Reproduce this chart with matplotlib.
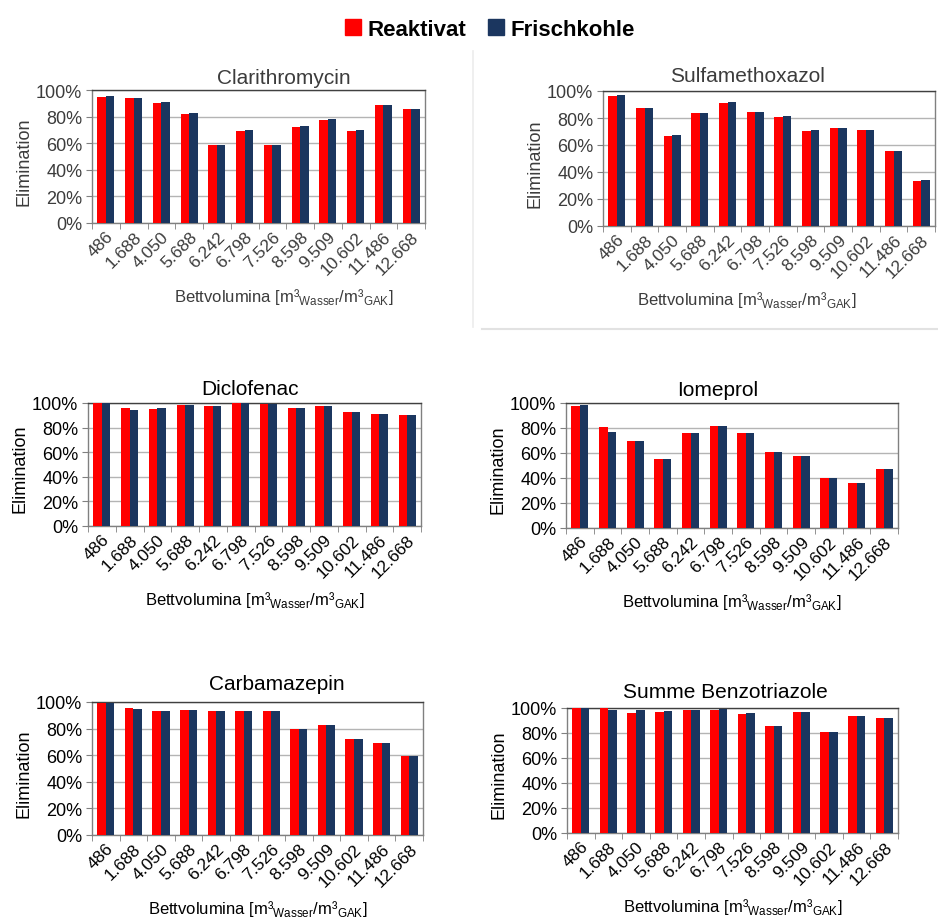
import matplotlib
matplotlib.use("Agg")
import matplotlib.pyplot as plt
import numpy as np
from matplotlib.patches import Patch
from matplotlib.lines import Line2D

plt.rcParams['font.family'] = ['Liberation Sans', 'DejaVu Sans']
plt.rcParams['mathtext.fontset'] = 'custom'
plt.rcParams['mathtext.rm'] = 'Liberation Sans'

###################
# Data (percent elimination)

categories = [ "486", "1.688", "4.050", "5.688", "6.242", "6.798", "7.526",
               "8.598", "9.509", "10.602", "11.486", "12.668" ]

clari_reakt = [ 95.0, 93.7, 90.5, 82.0, 58.6, 69.0, 58.6, 72.4, 77.4, 69.0, 88.5, 85.5 ]
clari_frisch = [ 95.5, 93.8, 91.0, 82.7, 59.0, 69.7, 59.0, 73.0, 78.0, 69.7, 89.0, 86.0 ]

sulfa_reakt = [ 96.5, 87.2, 66.9, 83.5, 91.4, 84.4, 80.7, 70.6, 72.3, 71.1, 55.6, 33.3 ]
sulfa_frisch = [ 97.0, 87.4, 67.2, 84.0, 91.6, 84.7, 81.2, 71.0, 72.6, 71.4, 55.8, 33.8 ]

diclo_reakt = [ 100.0, 95.9, 95.4, 98.4, 97.8, 99.7, 98.9, 95.7, 97.3, 92.4, 91.3, 90.5 ]
diclo_frisch = [ 100.0, 94.0, 95.7, 98.4, 97.8, 99.7, 98.9, 95.7, 97.3, 92.4, 91.3, 90.5 ]

iome_reakt = [ 97.9, 80.7, 69.3, 55.1, 75.7, 81.8, 75.9, 60.7, 58.0, 40.1, 35.8, 47.1 ]
iome_frisch = [ 98.7, 77.0, 69.3, 55.1, 75.7, 81.8, 75.9, 60.7, 58.0, 40.1, 35.8, 47.1 ]

carba_reakt = [ 99.5, 95.7, 93.5, 94.2, 93.5, 93.5, 93.5, 79.7, 82.5, 72.5, 69.2, 59.2 ]
carba_frisch = [ 99.5, 95.0, 93.5, 94.2, 93.5, 93.5, 93.5, 79.7, 82.5, 72.5, 69.2, 59.2 ]

benzo_reakt = [ 100.0, 100.0, 96.0, 96.5, 98.1, 98.4, 95.2, 85.3, 96.5, 81.1, 93.6, 91.7 ]
benzo_frisch = [ 100.0, 98.1, 98.1, 97.9, 98.4, 99.2, 96.0, 85.3, 96.5, 81.1, 93.6, 91.7 ]

titles = [ "Clarithromycin", "Sulfamethoxazol", "Diclofenac", "Iomeprol",
           "Carbamazepin", "Summe Benzotriazole" ]
seriesNames = [ "Reaktivat", "Frischkohle" ]

RED = "#ff0000"
BLUE = "#1b365f"

W, H = 938, 920

def box( l, r, t, b ):
    return [ l / W, 1 - b / H, ( r - l ) / W, ( b - t ) / H ]

# panel: rect, data, title offsets px, text colour, xlabel dx
panels = [
    ( box( 92, 425, 91, 224 ), clari_reakt, clari_frisch, 25, 13, "#3c3c3c", 25 ),
    ( box( 603, 935, 92, 227 ), sulfa_reakt, sulfa_frisch, -22, 15, "#3c3c3c", -22 ),
    ( box( 88, 421, 404, 527 ), diclo_reakt, diclo_frisch, -5, 14, "black", 0 ),
    ( box( 566, 898, 404, 529 ), iome_reakt, iome_frisch, -14, 13, "black", 0 ),
    ( box( 92, 423, 703, 836 ), carba_reakt, carba_frisch, 19, 18, "black", 0 ),
    ( box( 567, 898, 709, 834 ), benzo_reakt, benzo_frisch, -7, 16, "black", 0 ),
]

fig = plt.figure( figsize = ( W / 100, H / 100 ), dpi = 100 )

# faint frame around the Sulfamethoxazol picture
fig.add_artist( Line2D( [ 473 / W, 473 / W ], [ 1 - 52 / H, 1 - 328 / H ], color = "#ececec", lw = 1.2 ) )
fig.add_artist( Line2D( [ 482 / W, 1.0 ], [ 1 - 330 / H, 1 - 330 / H ], color = "#e2e2e2", lw = 1.5 ) )

x = np.arange( len( categories ) )
bw = 0.31
xlab = r"Bettvolumina [m³$_{\mathrm{Wasser}}$/m³$_{\mathrm{GAK}}$]"

for i, ( rect, reakt, frisch, tdx, tdy, tc, xdx ) in enumerate( panels ):
    ax = fig.add_axes( rect )
    ax.bar( x - bw / 2, reakt, bw, color = RED, zorder = 3 )
    ax.bar( x + bw / 2, frisch, bw, color = BLUE, zorder = 3 )

    ax.set_xlim( -0.5, len( categories ) - 0.5 )
    ax.set_ylim( 0, 100 )
    ax.set_yticks( np.arange( 0, 101, 20 ) )
    ax.set_yticklabels( [ "%d%%" % v for v in range( 0, 101, 20 ) ], fontsize = 13, color = tc )
    ax.yaxis.grid( True, color = "#b4b4b4", lw = 1.0, zorder = 0 )

    ax.set_xticks( x )
    ax.set_xticklabels( categories, rotation = 45, ha = "right", va = "top",
                        rotation_mode = "anchor", fontsize = 12.5, color = tc )
    ax.tick_params( axis = "x", length = 0, pad = 4 )
    ax.set_xticks( np.arange( -0.5, len( categories ), 1 ), minor = True )
    ax.tick_params( axis = "x", which = "minor", length = 4, color = "#808080", direction = "out" )
    ax.tick_params( axis = "y", length = 4, color = "#808080", direction = "out", pad = 3 )

    for s in ax.spines.values():
        s.set_color( "#808080" )
        s.set_linewidth( 1.0 )
    ax.spines[ "top" ].set_color( "#404040" )

    ax.annotate( titles[ i ], xy = ( 0.5, 1 ), xycoords = "axes fraction",
                 xytext = ( tdx, tdy ), textcoords = "offset pixels",
                 ha = "center", va = "center", fontsize = 15, color = tc )
    ax.annotate( xlab, xy = ( 0.5, 0 ), xycoords = "axes fraction",
                 xytext = ( xdx, -73 ), textcoords = "offset pixels",
                 ha = "center", va = "center", fontsize = 12, color = tc )
    ax.annotate( "Elimination", xy = ( 0, 0.47 ), xycoords = "axes fraction",
                 xytext = ( -68, 0 ), textcoords = "offset pixels",
                 ha = "center", va = "center", rotation = 90, fontsize = 13, color = tc )

handles = [ Patch( color = RED ), Patch( color = BLUE ) ]
fig.legend( handles, seriesNames, loc = "center", bbox_to_anchor = ( 490 / W, 1 - 30 / H ),
            ncol = 2, frameon = False, prop = { "weight": "bold", "size": 16 },
            handlelength = 0.7, handleheight = 0.7, handletextpad = 0.3, columnspacing = 1.0 )

fig.savefig( "out.png", dpi = 100 )
